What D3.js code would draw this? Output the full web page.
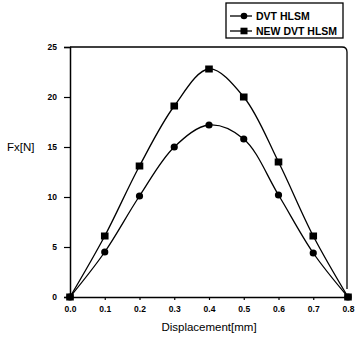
<!DOCTYPE html>
<html>
<head>
<meta charset="utf-8">
<script src="https://cdn.jsdelivr.net/npm/d3@7"></script>
<style>
  body { margin: 0; background: #fff; }
  svg { display: block; font-family: "Liberation Sans", Arial, sans-serif; }
</style>
</head>
<body>
<svg id="chart" width="356" height="339"></svg>
<script>
// values
var displacement = [0.0, 0.1, 0.2, 0.3, 0.4, 0.5, 0.6, 0.7, 0.8];
var dvtHlsm = [0, 4.5, 10.1, 15.0, 17.2, 15.8, 10.2, 4.4, 0];
var newDvtHlsm = [0, 6.1, 13.1, 19.1, 22.8, 20.0, 13.5, 6.1, 0];
var xTicks = [0.0, 0.1, 0.2, 0.3, 0.4, 0.5, 0.6, 0.7, 0.8];
var yTicks = [0, 5, 10, 15, 20, 25];
var seriesNames = ["DVT HLSM", "NEW DVT HLSM"];

var svg = d3.select("#chart");

var x = d3.scaleLinear().domain([0, 0.8]).range([70, 348]);
var y = d3.scaleLinear().domain([0, 25]).range([297, 47]);

// frame: top + right, rounded top-right corner
svg.append("path")
    .attr("d", "M" + x(0) + "," + y(25) + "H" + (x(0.8) - 6) +
        "Q" + (x(0.8) - 1) + "," + y(25) + " " + (x(0.8) - 1) + "," + (y(25) + 5) +
        "V" + (y(0) - 8))
    .attr("fill", "none").attr("stroke", "#000").attr("stroke-width", 1.3);

var xAxis = svg.append("g")
    .attr("transform", "translate(0," + y(0) + ")")
    .call(d3.axisBottom(x).tickValues(xTicks).tickSize(3).tickFormat(d3.format(".1f")));
var yAxis = svg.append("g")
    .attr("transform", "translate(" + x(0) + ",0)")
    .call(d3.axisLeft(y).tickValues(yTicks).tickSize(6).tickFormat(d3.format("d")));

[xAxis, yAxis].forEach(function(g) {
    g.select(".domain").attr("stroke-width", 1.5);
    g.selectAll(".tick line").attr("stroke-width", 1.2);
    g.selectAll("text").attr("font-size", 8.5).attr("font-weight", "bold").attr("fill", "#000");
});
xAxis.selectAll("text").attr("dy", "1.05em");
yAxis.selectAll("text").attr("x", -13);

svg.append("text")
    .attr("x", (x(0) + x(0.8)) / 2).attr("y", 331)
    .attr("text-anchor", "middle").attr("font-size", 11.5)
    .text("Displacement[mm]");
svg.append("text")
    .attr("x", 7).attr("y", 151)
    .attr("font-size", 11.5)
    .text("Fx[N]");

var line = d3.line().curve(d3.curveCatmullRom.alpha(0.5));

function drawSeries(values, marker) {
    var pts = displacement.map(function(d, i) { return [x(d), y(values[i])]; });
    svg.append("path").attr("d", line(pts))
        .attr("fill", "none").attr("stroke", "#000").attr("stroke-width", 1.3);
    pts.forEach(function(p) {
        if (marker === "circle") {
            svg.append("circle").attr("cx", p[0]).attr("cy", p[1]).attr("r", 3.6).attr("fill", "#000");
        } else {
            svg.append("rect").attr("x", p[0] - 3.8).attr("y", p[1] - 3.5)
                .attr("width", 7.6).attr("height", 7).attr("fill", "#000");
        }
    });
}
drawSeries(dvtHlsm, "circle");
drawSeries(newDvtHlsm, "square");

// legend
var lg = svg.append("g");
lg.append("rect").attr("x", 226).attr("y", 3).attr("width", 117).attr("height", 35)
    .attr("fill", "#fff").attr("stroke", "#000").attr("stroke-width", 1.3);
seriesNames.forEach(function(name, i) {
    var yy = 16 + i * 15;
    lg.append("line").attr("x1", 230).attr("x2", 252).attr("y1", yy).attr("y2", yy)
        .attr("stroke", "#000").attr("stroke-width", 1.3);
    if (i === 0) lg.append("circle").attr("cx", 244).attr("cy", yy).attr("r", 3.3).attr("fill", "#000");
    else lg.append("rect").attr("x", 240.5).attr("y", yy - 3.3).attr("width", 7).attr("height", 6.6).attr("fill", "#000");
    lg.append("text").attr("x", 256).attr("y", yy + 4)
        .attr("font-size", 10.5).attr("font-weight", "bold").text(name);
});
</script>
</body>
</html>
